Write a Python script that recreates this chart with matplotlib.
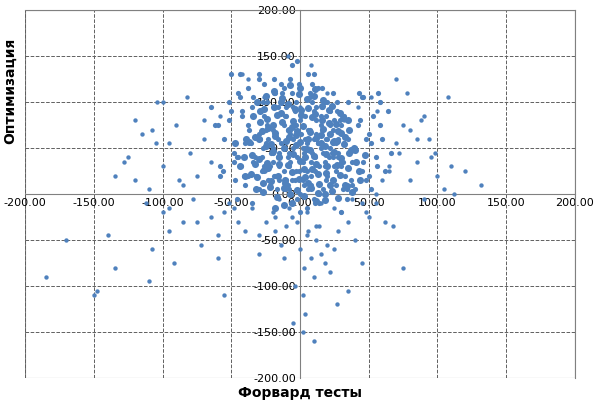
import matplotlib
matplotlib.use("Agg")
import matplotlib.pyplot as plt
import numpy as np

# dense centre of the cloud
core_x = [-2, 5, -8, 12, -15, 18, 0, 8, -5, 22, -20, 3, 10, -12, 15, -25, 28, -3, 6, -10,
          2, -18, 20, -6, 14, -28, 25, 9, -14, 1, 30, -30, -22, 16, 4, -9, 11, -4, 7, -16,
          19, -26, 24, -1, 13, -11, 26, -7, 17, -19, 33, -33, 35, -35, 38, -38, 40, -40, 32, -32,
          -2, 6, -12, 14, -20, 22, 0, 10, -8, 18, -24, 26, -4, 8, -16, 12, -28, 30, 4, -6,
          2, -10, 16, -14, 20, -18, 24, -22, 28, -26, 36, -36, 42, -42, 45, -45, 34, -34, 9, -3,
          -1, 7, -9, 11, -13, 15, -17, 19, -21, 23, -25, 27, -29, 31, 5, -5, 13, -15, 21, -23,
          3, -7, 17, -11, 25, -19, 29, -27, 37, -37, 41, -41, 44, -44, 48, -48, 50, -50, 46, -46,
          0, 12, -14, 20, -6, 8, -20, 26, -30, 32, 16, -10, 4, -2, 24, -24, 10, -18, 30, -34,
          -3, 9, -11, 15, -19, 21, 1, 11, -7, 19, -23, 27, -5, 7, -15, 13, -27, 31, 5, -9,
          6, -4, 14, -16, 22, -12, 18, -26, 28, -30, 34, -38, 40, -44, 2, -8, 10, -20, 24, -28,
          -40, -48, -52, -55, -45, -58, -50, -42, -60, -47, 52, 55, 58, 48, 60, 45, 53, 50, 62, 57,
          -35, -38, -43, -30, 35, 38, 43, 30, -52, 52, -56, 56, -46, 46, -62, 64, -65, 66, -58, 58]
core_y = [40, 55, 30, 65, 45, 35, 80, 20, 60, 50, 70, 10, 90, 25, 75, 55, 45, 100, 5, 85,
          35, 20, 60, 110, 0, 40, 80, 120, 100, 65, 30, 65, 10, 95, 50, 70, 40, 15, 105, 60,
          15, 85, 70, 25, 115, 5, 55, 125, 45, 110, 20, 40, 60, 95, 35, 75, 50, 55, 85, 20,
          -5, 130, 75, -10, 35, 90, 0, 60, 45, 30, 100, 10, 90, 35, 40, 80, 25, 75, 85, 15,
          50, 95, 70, 55, 20, 65, 40, 30, 60, 120, 45, 55, 75, 85, 25, 40, 5, 105, 100, 75,
          120, 70, 40, 25, 110, 50, 5, 85, 45, 45, 70, 100, 60, 35, -15, 95, 55, 30, 65, 15,
          45, 65, 5, 85, 30, 125, 80, 50, 15, 70, 35, 20, 80, 105, 60, 45, 20, 90, 105, 40,
          -20, 95, 120, 100, 140, 10, 45, 25, 5, 55, 115, 15, 60, 145, 110, 75, 130, 110, 35, 35,
          25, 45, 50, 85, 20, 40, 90, -10, 35, 60, 60, 90, 50, 110, 15, 55, 100, 5, 25, 10,
          70, 75, 30, 95, 75, 115, 100, 30, 40, 130, -5, 20, 5, 130, 15, 5, -5, 50, 55, 70,
          10, 35, 80, 60, 110, 30, 130, 90, 75, 15, 5, 40, 100, 15, 60, 105, 85, 65, 25, 110,
          -10, 115, 30, 125, 100, 10, 110, -20, 100, 55, 25, 30, -5, 35, 75, 90, 95, 45, 20, 75]

# second pass over the most crowded part of the blob
blob_x = [-35, -30, -25, -20, -15, -10, -5, 0, 5, 10, 15, 20, 25, 30, 35,
          -33, -28, -23, -18, -13, -8, -3, 2, 7, 12, 17, 22, 27, 32, 37,
          -36, -31, -26, -21, -16, -11, -6, -1, 4, 9, 14, 19, 24, 29, 34,
          -34, -29, -24, -19, -14, -9, -4, 1, 6, 11, 16, 21, 26, 31, 36,
          -32, -27, -22, -17, -12, -7, -2, 3, 8, 13, 18, 23, 28, 33, 38,
          -37, -30, -24, -18, -12, -6, 0, 6, 12, 18, 24, 30, 36, 41, -41,
          -31, -25, -19, -13, -7, -1, 5, 11, 17, 23, 29, 35, -39, 39, 43,
          -29, -21, -15, -9, -3, 3, 9, 15, 21, 27, -27, 33, -33, 40, -40,
          -26, -20, -14, -8, -2, 4, 10, 16, 22, 28, -44, 44, -47, 47, 0,
          -23, -17, -11, -5, 1, 7, 13, 19, 25, -6, 6, -12, 12, -18, 18]
blob_y = [42, 38, 52, 47, 33, 58, 44, 36, 49, 41, 55, 30, 46, 39, 28,
          62, 68, 72, 66, 78, 70, 64, 74, 67, 61, 71, 65, 58, 54, 48,
          22, 18, 26, 14, 20, 12, 24, 16, 19, 27, 11, 23, 15, 21, 9,
          85, 90, 82, 95, 88, 98, 92, 86, 94, 87, 80, 91, 76, 83, 70,
          5, 2, 8, -3, 6, 0, 4, -2, 7, 1, -6, 3, -4, 10, 2,
          57, 60, 34, 63, 50, 73, 57, 60, 33, 52, 56, 66, 45, 35, 40,
          100, 106, 112, 104, 118, 109, 103, 114, 102, 96, 88, 80, 60, 50, 25,
          78, 54, 40, 32, 53, 27, 84, 64, 77, 31, 12, 62, 33, 48, 20,
          92, 75, 100, 62, 68, 40, 107, 96, 10, 68, 30, 15, 55, 42, 115,
          28, 86, 15, 79, 91, 48, 22, 43, 58, -10, 12, -12, -8, -15, 0]

# lower part of the cloud and scattered points
spread_x = [-2, 5, -10, 12, -18, 20, 0, 8, -6, 15, -25, 28, 3, -14, 30, 10, -4, 18, -30, 25,
            -8, 35, 2, 22, -20, 14, 40, -35, 6, -12, 45, 50, 55, 60, -45, -55, -65, -70, -75, -80,
            -85, -90, -95, -100, -105, -110, -115, -120, -125, 65, 70, 75, 80, 85, 90, 95, 100, 105, 110,
            -140, -150, -170, -135, -128, -185, -108, -95, -110, -148, -135, -75, -92, -104, -55, -60, 35, 27, 45, 62,
            75, 85, 90, 120, 132, 108, 112, 98, 70, 78, 58, 52, 42, -40, -30, -48, 4, 2, -5, 10,
            -78, -88, -65, -100, -112, -70, -58, -82, 5, 15, -15, 25, 38, 48, 55, 68, -60, -72, -52, -85,
            -120, -108, -95, -100, 80, 88, 94, 72, 65, 56, -42, -38, 12, -18, 0, 20, -26, 32, 8, -9]
spread_y = [-30, -45, -35, -50, -40, -55, -60, -70, -25, -65, -30, -40, -80, -55, -20, -90, -100, -75, -45, -60,
            -15, -30, -110, -85, -20, -35, -50, -15, -40, -70, -10, -25, 0, 15, -30, -20, 35, 60, 20, 45,
            10, 75, -15, 30, 55, 5, 65, 15, 40, 30, 55, 75, 15, 60, -5, 40, 20, 5, 30,
            -45, -110, -50, 20, 35, -90, -60, -40, -95, -105, -80, -30, -75, 100, -110, -70, -105, -120, -75, -30,
            -80, 35, 85, 25, 10, 105, 0, 45, 125, 110, 100, 105, 95, -40, -65, -15, -130, -150, -140, -160,
            -5, 15, -25, -20, -10, 80, 85, 105, -20, -10, -5, -15, -5, -20, -10, -35, -45, -55, -10, -30,
            80, 70, 55, 100, 70, 80, 60, 45, 25, 90, 130, 125, -35, -25, 95, 110, 105, 80, 140, 150]

fig, ax = plt.subplots(figsize=(6, 4), dpi=100)
fig.subplots_adjust(left=0.042, right=0.958, top=0.975, bottom=0.055)
blue = '#4F81BD'
ax.scatter(core_x, core_y, s=14, color=blue, linewidths=0, zorder=3)
ax.scatter(blob_x, blob_y, s=26, color=blue, linewidths=0, zorder=3)
ax.scatter(spread_x, spread_y, s=10, color=blue, linewidths=0, zorder=3)

ax.set_xlim(-200, 200)
ax.set_ylim(-200, 200)
ticks = np.arange(-200, 201, 50)
ax.set_xticks(ticks)
ax.set_yticks(ticks)
ax.grid(True, linestyle='--', color='#606060', linewidth=0.7, zorder=0)
for s in ['left', 'bottom']:
    ax.spines[s].set_position('zero')
    ax.spines[s].set_color('#808080')
for s in ['top', 'right']:
    ax.spines[s].set_color('#808080')
ax.tick_params(length=0, labelsize=8, pad=3)
ax.set_xticklabels(['%.2f' % t for t in ticks])
ax.set_yticklabels(['%.2f' % t for t in ticks])
for lab in ax.get_xticklabels() + ax.get_yticklabels():
    lab.set_zorder(5)
ax.set_xlabel('Форвард тесты', fontsize=10, fontweight='bold', labelpad=0)
ax.set_ylabel('Оптимизация', fontsize=10, fontweight='bold', labelpad=0)
ax.xaxis.set_label_coords(0.5, -0.022)
ax.yaxis.set_label_coords(-0.015, 0.78)
# the outer border
frame = plt.Rectangle((0, 0), 1, 1, transform=ax.transAxes, fill=False,
                      edgecolor='#808080', linewidth=0.8)
ax.add_patch(frame)
fig.savefig('out.png')
